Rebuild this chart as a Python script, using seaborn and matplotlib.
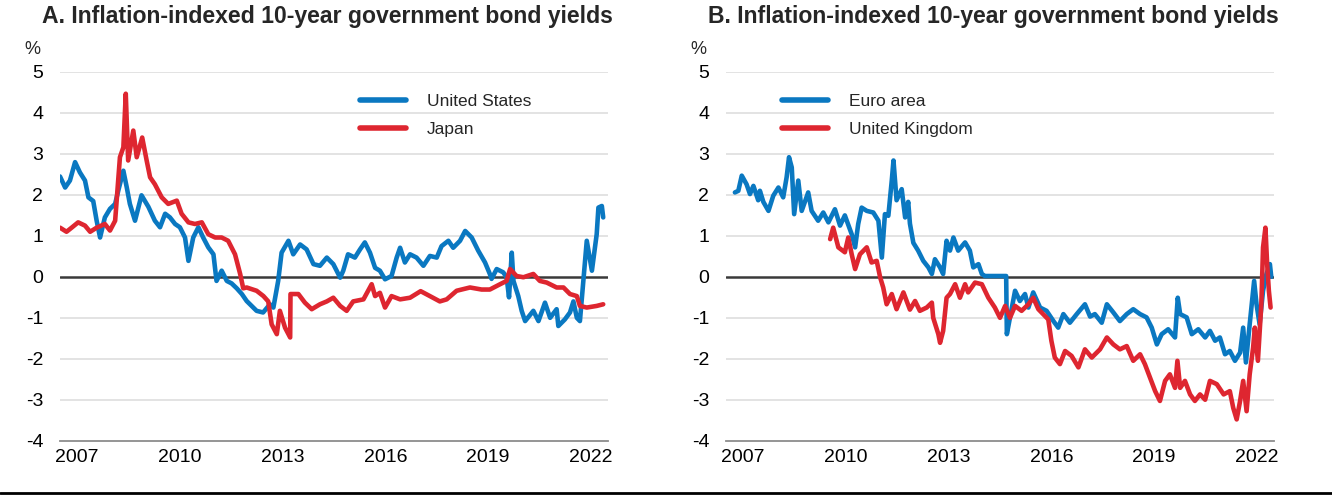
import numpy as np
import pandas as pd
import matplotlib
matplotlib.use('Agg')
import matplotlib.pyplot as plt
from matplotlib.lines import Line2D
import seaborn as sns

# Panel A: United States / Japan (decimal years, % yield)
us_t = [2007.00, 2007.15, 2007.29, 2007.44, 2007.58, 2007.73, 2007.83, 2007.97, 2008.07, 2008.17,
        2008.31, 2008.46, 2008.61, 2008.70, 2008.85, 2008.95, 2009.04, 2009.19, 2009.38, 2009.58,
        2009.77, 2009.92, 2010.07, 2010.21, 2010.36, 2010.50, 2010.65, 2010.75, 2010.89, 2011.04,
        2011.18, 2011.33, 2011.48, 2011.57, 2011.72, 2011.87, 2012.01, 2012.16, 2012.31, 2012.45,
        2012.74, 2012.93, 2013.13, 2013.23, 2013.37, 2013.47, 2013.67, 2013.81, 2014.01, 2014.20,
        2014.40, 2014.59, 2014.79, 2014.98, 2015.18, 2015.27, 2015.41, 2015.61, 2015.76, 2015.90,
        2016.05, 2016.20, 2016.34, 2016.49, 2016.68, 2016.83, 2016.93, 2017.07, 2017.22, 2017.41,
        2017.61, 2017.80, 2018.00, 2018.14, 2018.34, 2018.48, 2018.68, 2018.83, 2019.02, 2019.21,
        2019.41, 2019.55, 2019.60, 2019.75, 2019.94, 2020.04, 2020.11, 2020.19, 2020.24, 2020.38,
        2020.48, 2020.58, 2020.82, 2020.97, 2021.16, 2021.31, 2021.50, 2021.55, 2021.74, 2021.89,
        2021.99, 2022.09, 2022.18, 2022.28, 2022.38, 2022.53, 2022.67, 2022.72, 2022.82, 2022.86]
us_y = [2.45, 2.18, 2.35, 2.80, 2.55, 2.35, 1.94, 1.85, 1.37, 0.96,
        1.45, 1.66, 1.78, 2.10, 2.59, 2.18, 1.78, 1.37, 1.99, 1.71,
        1.37, 1.21, 1.54, 1.45, 1.29, 1.21, 0.96, 0.39, 0.96, 1.21,
        0.96, 0.72, 0.55, -0.10, 0.15, -0.10, -0.16, -0.28, -0.42, -0.59,
        -0.83, -0.87, -0.67, -0.75, -0.10, 0.59, 0.88, 0.55, 0.79, 0.67,
        0.31, 0.27, 0.47, 0.31, -0.02, 0.15, 0.55, 0.47, 0.67, 0.84,
        0.59, 0.22, 0.15, -0.06, 0.02, 0.47, 0.71, 0.35, 0.55, 0.47,
        0.27, 0.51, 0.47, 0.75, 0.88, 0.71, 0.88, 1.12, 0.96, 0.64,
        0.35, 0.07, -0.05, 0.19, 0.11, -0.01, -0.50, 0.59, -0.10, -0.47,
        -0.83, -1.08, -0.83, -1.08, -0.63, -1.00, -0.79, -1.20, -1.04, -0.87,
        -0.60, -1.00, -1.08, -0.10, 0.88, 0.15, 1.04, 1.69, 1.73, 1.45]

jp_t = [2007.00, 2007.19, 2007.34, 2007.53, 2007.73, 2007.88, 2008.07, 2008.31, 2008.46, 2008.61,
        2008.75, 2008.85, 2008.92, 2008.99, 2009.14, 2009.24, 2009.40, 2009.53, 2009.63, 2009.77,
        2009.97, 2010.16, 2010.41, 2010.55, 2010.75, 2010.94, 2011.14, 2011.33, 2011.53, 2011.72,
        2011.91, 2012.11, 2012.26, 2012.35, 2012.45, 2012.74, 2012.94, 2013.08, 2013.18, 2013.33,
        2013.42, 2013.57, 2013.72, 2013.73, 2013.96, 2014.15, 2014.35, 2014.59, 2014.79, 2014.98,
        2015.18, 2015.37, 2015.56, 2015.86, 2016.10, 2016.20, 2016.34, 2016.49, 2016.68, 2016.93,
        2017.22, 2017.53, 2017.80, 2018.09, 2018.29, 2018.58, 2018.97, 2019.31, 2019.55, 2019.85,
        2020.04, 2020.14, 2020.33, 2020.53, 2020.82, 2021.01, 2021.21, 2021.50, 2021.70, 2021.89,
        2022.09, 2022.18, 2022.38, 2022.67, 2022.86]
jp_y = [1.20, 1.10, 1.20, 1.33, 1.25, 1.10, 1.20, 1.29, 1.13, 1.37,
        2.92, 3.16, 4.47, 2.84, 3.57, 2.92, 3.40, 2.84, 2.43, 2.26,
        1.94, 1.78, 1.86, 1.54, 1.33, 1.29, 1.33, 1.04, 0.96, 0.96,
        0.88, 0.55, 0.07, -0.28, -0.26, -0.34, -0.47, -0.60, -1.16, -1.40,
        -0.83, -1.24, -1.48, -0.42, -0.42, -0.63, -0.79, -0.67, -0.60, -0.51,
        -0.71, -0.83, -0.60, -0.55, -0.18, -0.47, -0.39, -0.75, -0.47, -0.55,
        -0.51, -0.35, -0.47, -0.60, -0.55, -0.34, -0.26, -0.31, -0.31, -0.18,
        -0.10, 0.19, 0.02, -0.01, 0.07, -0.10, -0.14, -0.26, -0.26, -0.42,
        -0.47, -0.71, -0.75, -0.71, -0.67]

# Panel B: Euro area / United Kingdom
ea_t = [2007.26, 2007.36, 2007.46, 2007.60, 2007.70, 2007.80, 2007.94, 2007.99, 2008.09, 2008.24,
        2008.38, 2008.53, 2008.67, 2008.77, 2008.84, 2008.92, 2008.99, 2009.11, 2009.21, 2009.40,
        2009.50, 2009.69, 2009.84, 2009.99, 2010.18, 2010.33, 2010.47, 2010.67, 2010.77, 2010.86,
        2010.96, 2011.11, 2011.30, 2011.45, 2011.55, 2011.64, 2011.74, 2011.84, 2011.89, 2011.98,
        2012.13, 2012.23, 2012.32, 2012.37, 2012.47, 2012.61, 2012.76, 2012.91, 2013.01, 2013.10,
        2013.25, 2013.34, 2013.44, 2013.54, 2013.64, 2013.78, 2013.98, 2014.12, 2014.22, 2014.37,
        2014.47, 2014.56, 2015.18, 2015.20, 2015.29, 2015.44, 2015.58, 2015.73, 2015.83, 2015.97,
        2016.17, 2016.36, 2016.56, 2016.70, 2016.85, 2017.04, 2017.24, 2017.48, 2017.63, 2017.77,
        2017.97, 2018.12, 2018.31, 2018.50, 2018.70, 2018.89, 2019.09, 2019.28, 2019.43, 2019.58,
        2019.72, 2019.91, 2020.11, 2020.19, 2020.26, 2020.45, 2020.60, 2020.79, 2020.99, 2021.13,
        2021.28, 2021.42, 2021.57, 2021.71, 2021.86, 2022.01, 2022.10, 2022.18, 2022.29, 2022.42,
        2022.49, 2022.58, 2022.68, 2022.78, 2022.88, 2022.92]
ea_y = [2.06, 2.10, 2.47, 2.26, 2.02, 2.22, 1.87, 2.10, 1.83, 1.61,
        1.98, 2.18, 1.94, 2.43, 2.92, 2.67, 1.53, 2.35, 1.61, 2.06,
        1.61, 1.37, 1.57, 1.33, 1.65, 1.25, 1.50, 1.04, 0.72, 1.29,
        1.69, 1.61, 1.57, 1.37, 0.47, 1.53, 1.49, 2.35, 2.84, 1.87,
        2.14, 1.45, 1.83, 1.30, 0.83, 0.64, 0.39, 0.23, 0.07, 0.43,
        0.23, 0.07, 0.88, 0.64, 0.96, 0.64, 0.84, 0.64, 0.23, 0.31,
        0.07, 0.02, 0.02, -1.40, -1.00, -0.34, -0.59, -0.42, -0.75, -0.38,
        -0.75, -0.83, -1.08, -1.24, -0.91, -1.12, -0.91, -0.67, -0.97, -0.91,
        -1.12, -0.67, -0.87, -1.08, -0.91, -0.79, -0.91, -0.99, -1.24, -1.65,
        -1.40, -1.28, -1.48, -0.51, -0.91, -0.99, -1.40, -1.28, -1.48, -1.32,
        -1.56, -1.48, -1.89, -1.81, -2.05, -1.85, -1.24, -2.09, -1.16, -0.10,
        -0.67, -1.16, -0.34, 0.07, 0.31, 0.00]

uk_t = [2010.04, 2010.13, 2010.28, 2010.47, 2010.57, 2010.67, 2010.77, 2010.91, 2011.11, 2011.25,
        2011.40, 2011.50, 2011.59, 2011.69, 2011.84, 2011.98, 2012.18, 2012.37, 2012.52, 2012.66,
        2012.86, 2013.01, 2013.05, 2013.20, 2013.25, 2013.34, 2013.44, 2013.54, 2013.69, 2013.83,
        2013.98, 2014.07, 2014.27, 2014.47, 2014.66, 2014.85, 2015.00, 2015.15, 2015.29, 2015.44,
        2015.63, 2015.83, 2015.97, 2016.12, 2016.26, 2016.41, 2016.50, 2016.60, 2016.75, 2016.90,
        2017.09, 2017.29, 2017.48, 2017.68, 2017.92, 2018.12, 2018.31, 2018.50, 2018.70, 2018.89,
        2019.09, 2019.23, 2019.38, 2019.53, 2019.67, 2019.82, 2019.96, 2020.11, 2020.18, 2020.26,
        2020.40, 2020.55, 2020.69, 2020.84, 2020.99, 2021.13, 2021.33, 2021.53, 2021.71, 2021.81,
        2021.91, 2022.01, 2022.10, 2022.20, 2022.29, 2022.39, 2022.44, 2022.53, 2022.63, 2022.68,
        2022.75, 2022.80, 2022.85, 2022.90]
uk_y = [0.92, 1.20, 0.72, 0.60, 0.96, 0.55, 0.19, 0.55, 0.72, 0.35,
        0.39, -0.01, -0.26, -0.67, -0.42, -0.79, -0.38, -0.80, -0.59, -0.83,
        -0.75, -0.63, -1.00, -1.40, -1.61, -1.32, -0.51, -0.42, -0.18, -0.51,
        -0.18, -0.38, -0.14, -0.18, -0.51, -0.75, -1.00, -0.71, -1.00, -0.71,
        -0.83, -0.67, -0.51, -0.79, -0.91, -1.04, -1.56, -1.97, -2.13, -1.81,
        -1.93, -2.21, -1.77, -1.97, -1.77, -1.48, -1.65, -1.77, -1.69, -2.05,
        -1.89, -2.13, -2.46, -2.79, -3.03, -2.54, -2.38, -2.71, -2.05, -2.71,
        -2.54, -2.87, -3.03, -2.87, -3.00, -2.54, -2.62, -2.87, -2.79, -3.20,
        -3.48, -3.03, -2.54, -3.28, -2.38, -1.73, -1.24, -2.05, -0.67, 0.72,
        1.20, 0.31, -0.34, -0.75]

panel_titles = ['A. Inflation-indexed 10-year government bond yields',
                'B. Inflation-indexed 10-year government bond yields']
year_ticks = list(range(2007, 2024))
year_labels = ['2007', '2010', '2013', '2016', '2019', '2022']
y_ticks = [-4, -3, -2, -1, 0, 1, 2, 3, 4, 5]

BLUE = '#0a78c1'
RED = '#de2630'

sns.set_theme(style='white')
plt.rcParams['font.family'] = ['Liberation Sans', 'DejaVu Sans']

df_a = pd.concat([
    pd.DataFrame({'year': us_t, 'yield': us_y, 'series': 'United States'}),
    pd.DataFrame({'year': jp_t, 'yield': jp_y, 'series': 'Japan'}),
])
df_b = pd.concat([
    pd.DataFrame({'year': ea_t, 'yield': ea_y, 'series': 'Euro area'}),
    pd.DataFrame({'year': uk_t, 'yield': uk_y, 'series': 'United Kingdom'}),
])

fig = plt.figure(figsize=(13.32, 4.95), dpi=100)
W, H = 1332, 495
axes = [fig.add_axes([60 / W, 54.3 / H, 548 / W, 368.7 / H]),
        fig.add_axes([726 / W, 54.3 / H, 548 / W, 368.7 / H])]

panels = [
    (df_a, ['United States', 'Japan'], 0.547, 327),
    (df_b, ['Euro area', 'United Kingdom'], 0.102, 993),
]

for ax, (df, order, leg_x, title_x), title in zip(axes, panels, panel_titles):
    # light grid + zero line
    for v in y_ticks[1:]:
        if v == 0:
            continue
        ax.axhline(v, color='#dedede', lw=1.2, zorder=0)
    ax.axhline(0, color='#3a3a3a', lw=1.8, zorder=1.5)

    sns.lineplot(data=df, x='year', y='yield', hue='series', hue_order=order,
                 palette=[BLUE, RED], estimator=None, sort=False, lw=3.3,
                 ax=ax, zorder=2)

    ax.set_xlim(2007, 2023)
    ax.set_ylim(-4, 5)
    ax.set_xlabel('')
    ax.set_ylabel('')

    for side in ['top', 'right', 'left']:
        ax.spines[side].set_visible(False)
    ax.spines['bottom'].set_color('#8c8c8c')
    ax.spines['bottom'].set_linewidth(1.3)

    ax.set_yticks(y_ticks)
    ax.set_yticklabels([str(v) for v in y_ticks])
    ax.tick_params(axis='y', length=0, pad=12, labelsize=14, colors='black')

    # year boundaries as ticks, labels centred mid-year
    ax.set_xticks(year_ticks)
    ax.set_xticklabels([''] * len(year_ticks))
    ax.tick_params(axis='x', which='major', direction='in', length=6, width=1,
                   color='#8c8c8c')
    ax.set_xticks([int(y) + 0.5 for y in year_labels], minor=True)
    ax.set_xticklabels(year_labels, minor=True)
    ax.tick_params(axis='x', which='minor', length=0, pad=6, labelsize=14,
                   labelcolor='black')

    ax.annotate('%', xy=(0, 5), xycoords=('axes fraction', 'data'),
                xytext=(-28, 23), textcoords='offset pixels',
                ha='center', va='center', fontsize=13)

    leg = ax.legend(loc='upper left', bbox_to_anchor=(leg_x, 0.94), frameon=False,
                    fontsize=12.5, handlelength=2.65, handletextpad=1.2,
                    labelspacing=0.72, borderpad=0, borderaxespad=0)
    for line in leg.get_lines():
        line.set_linewidth(4)

    fig.text(title_x / W, 1 - 17 / H, title, ha='center', va='center',
             fontsize=16.6, fontweight='bold')

fig.add_artist(Line2D([0, 1], [0.004, 0.004], transform=fig.transFigure,
                      color='black', lw=2))

fig.savefig('out.png', dpi=100)
